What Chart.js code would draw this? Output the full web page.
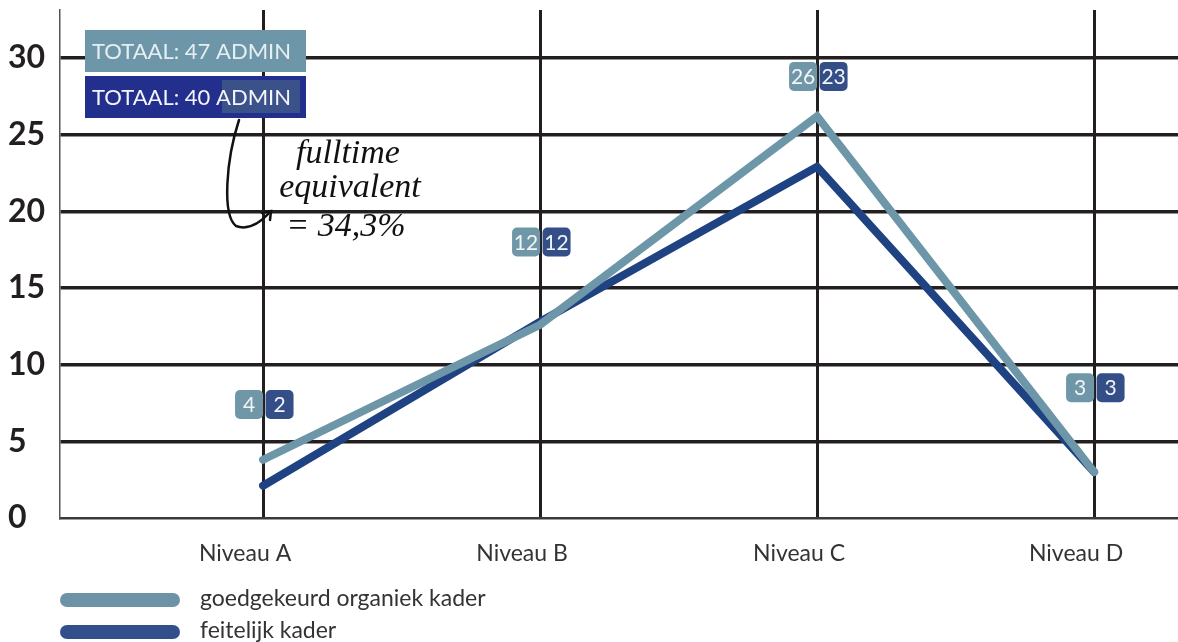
<!DOCTYPE html>
<html>
<head>
<meta charset="utf-8">
<script src="https://cdn.jsdelivr.net/npm/chart.js@4/dist/chart.umd.min.js"></script>
<style>
  html, body { margin: 0; padding: 0; background: #fff; }
  #wrap { width: 1178px; height: 642px; }
</style>
</head>
<body>
<div id="wrap"><canvas id="graphCanvas" width="1178" height="642"></canvas></div>
<script>
// data
var categories = ['Niveau A', 'Niveau B', 'Niveau C', 'Niveau D'];
var goedgekeurd = [3.8, 12.6, 26.2, 3];
var feitelijk = [2.1, 12.8, 22.9, 3];
var goedgekeurdLabels = [4, 12, 26, 3];
var feitelijkLabels = [2, 12, 23, 3];
var labelLevel = [7.4, 18, 28.8, 8.5];
var yTicks = [0, 5, 10, 15, 20, 25, 30];
var seriesNames = ['goedgekeurd organiek kader', 'feitelijk kader'];
var totals = ['TOTAAL: 47 ADMIN', 'TOTAAL: 40 ADMIN'];

var lightColor = '#6d97a9';
var darkColor = '#1e4282';
var lightBox = '#7097a8';
var darkBox = '#344e87';
var gridColor = '#231f20';

function roundRect(ctx, x, y, w, h, r) {
    ctx.beginPath();
    ctx.moveTo(x + r, y);
    ctx.arcTo(x + w, y, x + w, y + h, r);
    ctx.arcTo(x + w, y + h, x, y + h, r);
    ctx.arcTo(x, y + h, x, y, r);
    ctx.arcTo(x, y, x + w, y, r);
    ctx.closePath();
}

var valueBoxes = {
    id: 'valueBoxes',
    afterDatasetsDraw: function (chart) {
        var ctx = chart.ctx;
        var xs = chart.scales.x, ys = chart.scales.y;
        ctx.save();
        ctx.font = '21px Lato';
        ctx.textAlign = 'center';
        ctx.textBaseline = 'middle';
        for (var i = 0; i < categories.length; i++) {
            var x = xs.getPixelForValue(i);
            var y = ys.getPixelForValue(labelLevel[i]);
            ctx.fillStyle = lightBox;
            roundRect(ctx, x - 28, y - 14.5, 28, 29, 5);
            ctx.fill();
            ctx.fillStyle = darkBox;
            roundRect(ctx, x + 2.5, y - 14.5, 28, 29, 5);
            ctx.fill();
            ctx.fillStyle = '#f2f5f7';
            ctx.fillText(goedgekeurdLabels[i], x - 14, y + 1);
            ctx.fillText(feitelijkLabels[i], x + 16.5, y + 1);
        }
        ctx.restore();
    }
};

var extras = {
    id: 'extras',
    afterDraw: function (chart) {
        var ctx = chart.ctx;
        ctx.save();
        // totals
        ctx.fillStyle = '#6d97a8';
        ctx.fillRect(85, 30, 221, 42);
        ctx.fillStyle = '#232f8c';
        ctx.fillRect(85, 76, 221, 42);
        ctx.fillStyle = '#3b5189';
        ctx.fillRect(222, 80, 78, 33);
        ctx.font = '22px Lato';
        ctx.textBaseline = 'middle';
        ctx.textAlign = 'left';
        ctx.fillStyle = '#e6eef2';
        ctx.fillText(totals[0], 92, 52);
        ctx.fillStyle = '#f4f4fa';
        ctx.fillText(totals[1], 92, 98);

        // handwritten note + arrow
        ctx.strokeStyle = '#111';
        ctx.lineWidth = 2.5;
        ctx.lineCap = 'round';
        ctx.beginPath();
        ctx.moveTo(239, 120);
        ctx.bezierCurveTo(226, 160, 222, 215, 236, 226);
        ctx.quadraticCurveTo(252, 232, 270, 212);
        ctx.stroke();
        ctx.beginPath();
        ctx.moveTo(262, 213);
        ctx.lineTo(271, 211);
        ctx.lineTo(270, 220);
        ctx.stroke();
        ctx.fillStyle = '#111';
        ctx.font = 'italic 34px "Liberation Serif"';
        ctx.textAlign = 'center';
        ctx.textBaseline = 'alphabetic';
        ctx.fillText('fulltime', 348, 163);
        ctx.fillText('equivalent', 350, 197);
        ctx.fillText('= 34,3%', 346, 236);

        // legend
        var legendColors = ['#6c94a6', '#34508c'];
        var legendY = [600, 632];
        ctx.lineWidth = 14;
        ctx.font = '23px Lato';
        ctx.textAlign = 'left';
        ctx.textBaseline = 'middle';
        for (var i = 0; i < seriesNames.length; i++) {
            ctx.strokeStyle = legendColors[i];
            ctx.beginPath();
            ctx.moveTo(67, legendY[i]);
            ctx.lineTo(173, legendY[i]);
            ctx.stroke();
            ctx.fillStyle = '#333';
            ctx.fillText(seriesNames[i], 200, legendY[i] - 1);
        }
        ctx.restore();
    }
};

function showGraph() {
    var chartdata = {
        datasets: [
            {
                label: seriesNames[0],
                data: goedgekeurd.map(function (v, i) { return { x: i, y: v }; }),
                borderColor: lightColor,
                backgroundColor: lightColor,
                borderWidth: 8,
                borderCapStyle: 'round',
                borderJoinStyle: 'miter',
                pointRadius: 0,
                tension: 0
            },
            {
                label: seriesNames[1],
                data: feitelijk.map(function (v, i) { return { x: i, y: v }; }),
                borderColor: darkColor,
                backgroundColor: darkColor,
                borderWidth: 8,
                borderCapStyle: 'round',
                borderJoinStyle: 'miter',
                pointRadius: 0,
                tension: 0
            }
        ]
    };

    new Chart(document.getElementById('graphCanvas'), {
        type: 'line',
        data: chartdata,
        plugins: [valueBoxes, extras],
        options: {
            responsive: false,
            animation: false,
            layout: { padding: { top: 10, left: 8, right: 0, bottom: 0 } },
            plugins: { legend: { display: false }, tooltip: { enabled: false } },
            scales: {
                x: {
                    type: 'linear',
                    min: -0.733,
                    max: 3.303,
                    afterBuildTicks: function (s) {
                        s.ticks = categories.map(function (c, i) { return { value: i }; });
                    },
                    afterFit: function (s) { s.height = 124; s.paddingLeft = 0; s.paddingRight = 0; },
                    ticks: {
                        callback: function (v) { return categories[v]; },
                        padding: 22,
                        labelOffset: -18,
                        maxRotation: 0,
                        autoSkip: false,
                        font: { family: 'Lato', size: 23 },
                        color: '#333'
                    },
                    grid: { color: gridColor, lineWidth: 3, drawTicks: false },
                    border: { color: '#3a3a3a', width: 2.5 }
                },
                y: {
                    min: 0,
                    max: 33.13,
                    afterBuildTicks: function (s) {
                        s.ticks = yTicks.map(function (v) { return { value: v }; });
                    },
                    afterFit: function (s) { s.width = 52; s.paddingTop = 0; s.paddingBottom = 0; },
                    ticks: {
                        crossAlign: 'far',
                        padding: 0,
                        font: { family: 'Lato', size: 32, weight: 'bold' },
                        color: gridColor
                    },
                    grid: {
                        color: function (c) { return c.tick && c.tick.value === 0 ? 'rgba(0,0,0,0)' : gridColor; },
                        lineWidth: 3.5,
                        drawTicks: false
                    },
                    border: { color: '#555', width: 1.5 }
                }
            }
        }
    });
}

showGraph();
</script>
</body>
</html>
